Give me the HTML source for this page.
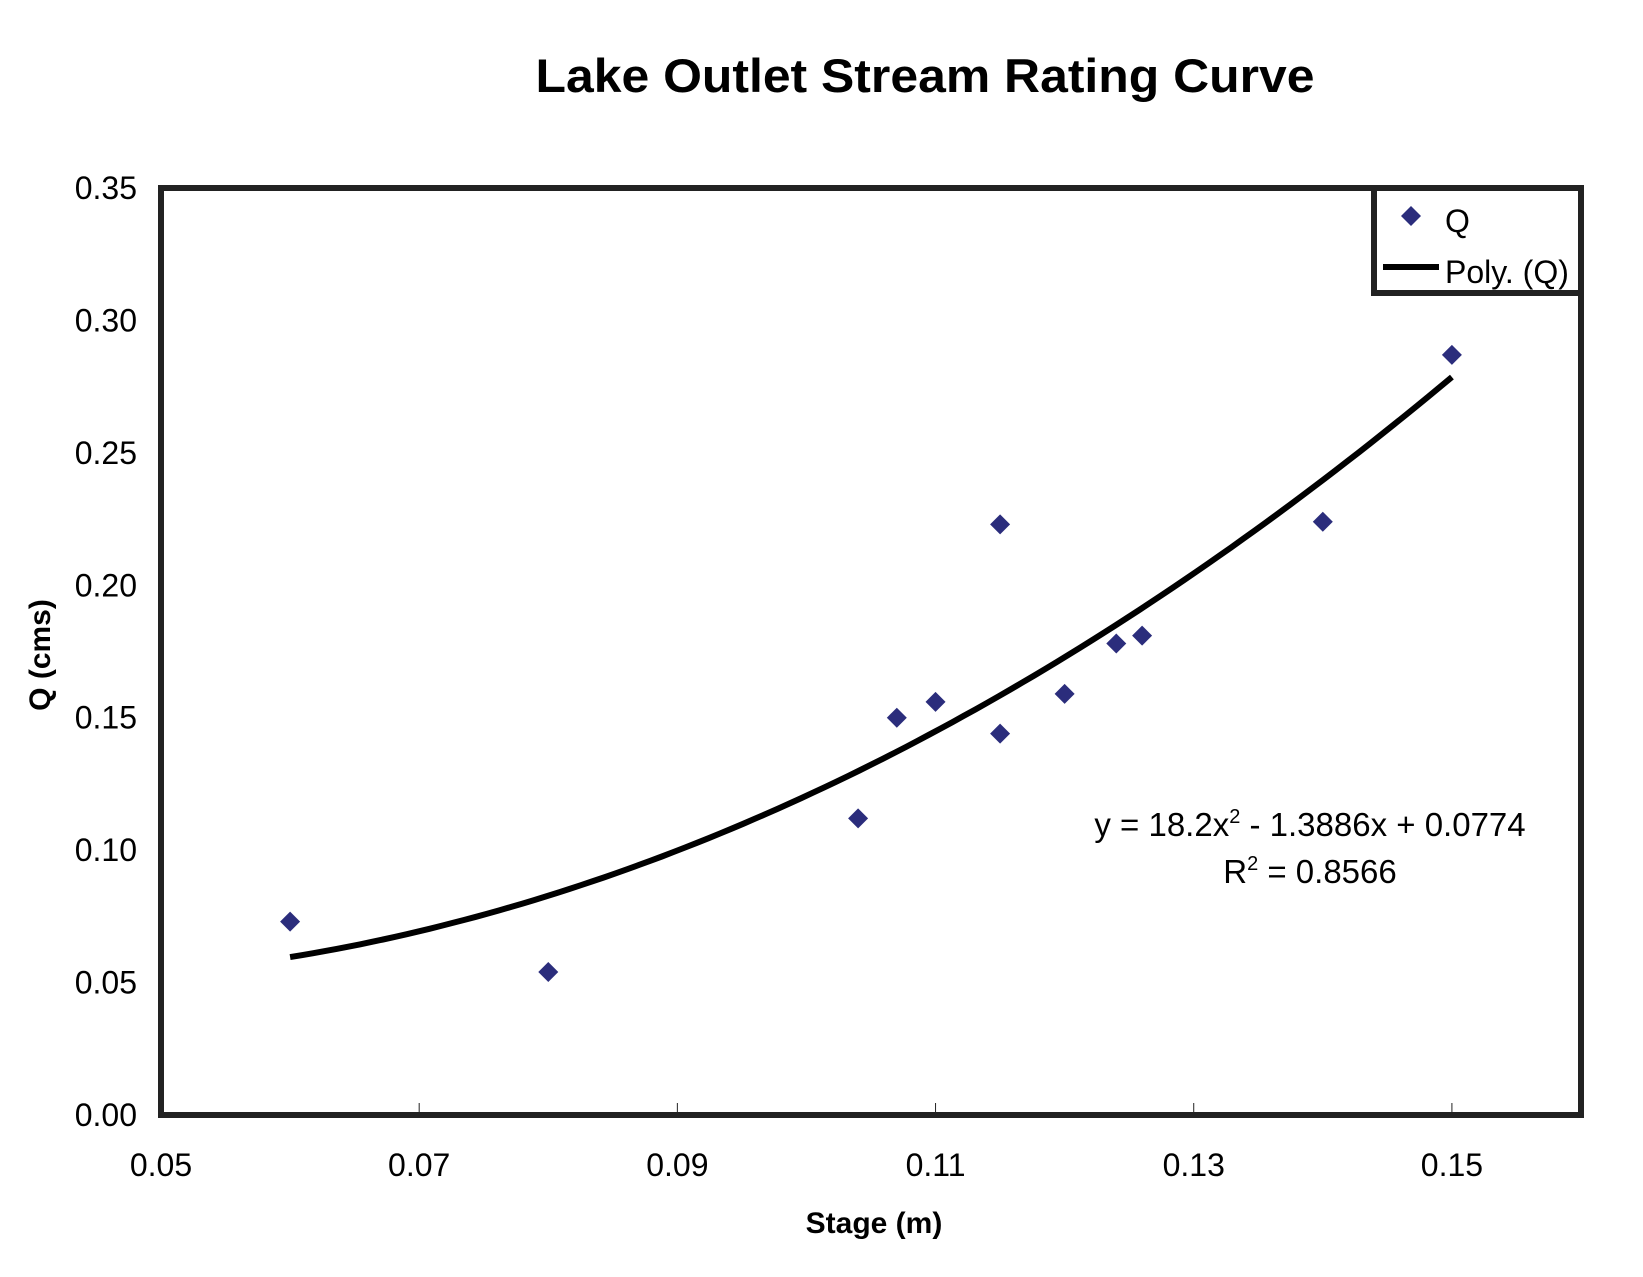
<!DOCTYPE html>
<html><head><meta charset="utf-8"><style>
html,body{margin:0;padding:0;background:#fff;}
svg{display:block;font-family:"Liberation Sans",Arial,sans-serif;}
</style></head><body>
<svg id="chart" width="1643" height="1277" viewBox="0 0 1643 1277" xmlns="http://www.w3.org/2000/svg">
<rect x="0" y="0" width="1643" height="1277" fill="#fff"/>
<text x="925" y="92" text-anchor="middle" font-size="47" font-weight="bold" textLength="779" lengthAdjust="spacingAndGlyphs">Lake Outlet Stream Rating Curve</text>
<g id="ticks"></g>
<g id="curve"></g>
<g id="points"></g>
<rect x="161" y="188" width="1420" height="927" fill="none" stroke="#222" stroke-width="6"/>
<text x="874" y="1233" text-anchor="middle" font-size="30" font-weight="bold">Stage (m)</text>
<text transform="translate(50,655) rotate(-90)" text-anchor="middle" font-size="30" font-weight="bold">Q (cms)</text>
<g font-size="33">
<text x="1310" y="836" text-anchor="middle">y = 18.2x<tspan font-size="20" dy="-13">2</tspan><tspan dy="13"> - 1.3886x + 0.0774</tspan></text>
<text x="1310" y="883" text-anchor="middle">R<tspan font-size="20" dy="-13">2</tspan><tspan dy="13"> = 0.8566</tspan></text>
</g>
<g>
<rect x="1374" y="188" width="207" height="105" fill="#fff" stroke="#222" stroke-width="6"/>
<polygon points="1411,206 1421,216 1411,226 1401,216" fill="#2b2d7c"/>
<text x="1445" y="232" font-size="32">Q</text>
<line x1="1383" y1="267" x2="1439" y2="267" stroke="#000" stroke-width="6"/>
<text x="1445" y="283" font-size="32">Poly. (Q)</text>
</g>
</svg>
<script>
const stage = [0.06,0.08,0.104,0.107,0.11,0.115,0.115,0.12,0.124,0.126,0.14,0.15];
const flow = [0.073,0.054,0.112,0.150,0.156,0.223,0.144,0.159,0.178,0.181,0.224,0.287];
const xTicks = [0.05,0.07,0.09,0.11,0.13,0.15];
const yTicks = [0,0.05,0.10,0.15,0.20,0.25,0.30,0.35];
const coef = [18.2,-1.3886,0.0774];
const fitRange = [0.06,0.15];
const NS='http://www.w3.org/2000/svg';
const X0=161,X1=1581,Y0=1115,Y1=188;
function sx(v){return X0+(v-0.05)/(0.16-0.05)*(X1-X0);}
function sy(v){return Y0-(v-0)/(0.35-0)*(Y0-Y1);}
const tg=document.getElementById('ticks');
xTicks.forEach(t=>{
  const l=document.createElementNS(NS,'line');
  l.setAttribute('x1',sx(t));l.setAttribute('x2',sx(t));l.setAttribute('y1',Y0);l.setAttribute('y2',Y0-12);
  l.setAttribute('stroke','#222');l.setAttribute('stroke-width','1');
  
  
  tg.appendChild(l);
  const tx=document.createElementNS(NS,'text');
  tx.setAttribute('x',sx(t));tx.setAttribute('y',1176);tx.setAttribute('text-anchor','middle');tx.setAttribute('font-size','32');
  tx.textContent=t.toFixed(2);
  
  
  tg.appendChild(tx);
});
yTicks.forEach(t=>{
  const tx=document.createElementNS(NS,'text');
  tx.setAttribute('x',137);tx.setAttribute('y',sy(t)+11);tx.setAttribute('text-anchor','end');tx.setAttribute('font-size','32');
  tx.textContent=t.toFixed(2);
  
  
  tg.appendChild(tx);
});
let d='';
for(let i=0;i<=100;i++){
  const x=fitRange[0]+(fitRange[1]-fitRange[0])*i/100;
  const y=coef[0]*x*x+coef[1]*x+coef[2];
  d+=(i?'L':'M')+sx(x).toFixed(1)+','+sy(y).toFixed(1);
}
const p=document.createElementNS(NS,'path');
p.setAttribute('d',d);p.setAttribute('fill','none');p.setAttribute('stroke','#000');p.setAttribute('stroke-width','6');


document.getElementById('curve').appendChild(p);
const pg=document.getElementById('points');
stage.forEach((s,i)=>{
  const cx=sx(s),cy=sy(flow[i]);
  const m=document.createElementNS(NS,'polygon');
  m.setAttribute('points',`${cx},${cy-10} ${cx+10},${cy} ${cx},${cy+10} ${cx-10},${cy}`);
  m.setAttribute('fill','#2b2d7c');
  
  
  pg.appendChild(m);
});
</script>
</body></html>
